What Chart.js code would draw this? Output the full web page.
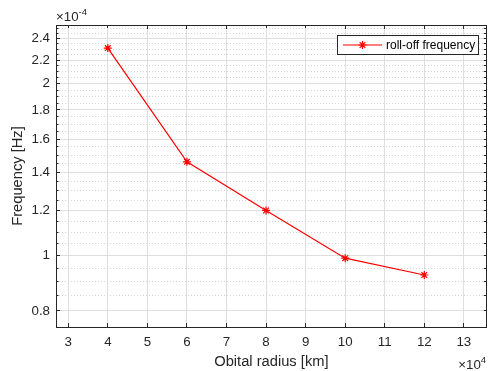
<!DOCTYPE html>
<html>
<head>
<meta charset="utf-8">
<script src="https://cdn.jsdelivr.net/npm/chart.js@4/dist/chart.umd.min.js"></script>
<style>
    html, body { margin: 0; padding: 0; background: #fff; }
    #wrap { width: 492px; height: 371px; position: relative; }
</style>
</head>
<body>
<div id="wrap"><canvas id="rolloffChart" width="492" height="371"></canvas></div>
<script>
// orbital radius [km] and roll-off frequency [Hz]
const radius = [40000, 60000, 80000, 100000, 120000];
const rolloff = [2.31e-4, 1.46e-4, 1.2e-4, 0.99e-4, 0.925e-4];

// tick values (x in units of 1e4 km, y in units of 1e-4 Hz)
const xTicks = [3, 4, 5, 6, 7, 8, 9, 10, 11, 12, 13];
const yMajor = [0.8, 1, 1.2, 1.4, 1.6, 1.8, 2, 2.2, 2.4];
const yMinor = [0.85, 0.9, 0.95, 1.05, 1.1, 1.15, 1.25, 1.3, 1.35, 1.45, 1.5, 1.55,
    1.65, 1.7, 1.75, 1.85, 1.9, 1.95, 2.05, 2.1, 2.15, 2.25, 2.3, 2.35, 2.45, 2.5];

const xMin = 2.69e4, xMax = 13.58e4;
const yMin = 0.75e-4, yMax = 2.535e-4;

const axisColor = '#262626';
const fontFamily = '"Liberation Sans", Arial, Helvetica, sans-serif';

const setTicks = (list, unit) => (scale) => {
    scale.ticks = list.map(v => ({ value: v * unit }));
};

const fixedWidth = (w) => (scale) => { scale.width = w; };
const fixedHeight = (h) => (scale) => { scale.height = h; };

// legend box and the x10 exponent labels, drawn like matlab does
const extrasPlugin = {
    id: 'extras',
    afterDraw(chart) {
        const { ctx, chartArea } = chart;
        ctx.save();

        // exponent labels
        ctx.fillStyle = axisColor;
        ctx.textBaseline = 'alphabetic';
        ctx.textAlign = 'left';
        ctx.font = `13.3px ${fontFamily}`;
        ctx.fillText('\u00d710', chartArea.left, 21);
        let w = ctx.measureText('\u00d710').width;
        ctx.font = `9.5px ${fontFamily}`;
        ctx.fillText('-4', chartArea.left + w, 15);

        ctx.font = `13.3px ${fontFamily}`;
        w = ctx.measureText('\u00d710').width;
        const ex = chartArea.right - w - 6;
        ctx.fillText('\u00d710', ex, 369);
        ctx.font = `9.5px ${fontFamily}`;
        ctx.fillText('4', ex + w, 363);

        // legend
        const lx = 337, ly = 35, lw = 142, lh = 20;
        ctx.fillStyle = '#fff';
        ctx.fillRect(lx, ly, lw, lh);
        ctx.strokeStyle = axisColor;
        ctx.lineWidth = 1;
        ctx.strokeRect(lx + 0.5, ly + 0.5, lw - 1, lh - 1);

        const cy = ly + lh / 2;
        ctx.strokeStyle = '#ff0000';
        ctx.lineWidth = 1.2;
        ctx.beginPath();
        ctx.moveTo(343, cy);
        ctx.lineTo(382, cy);
        ctx.stroke();
        Chart.helpers.drawPoint(ctx, { pointStyle: 'star', radius: 4, rotation: 0, borderWidth: 1.2 }, 362.5, cy);

        ctx.fillStyle = '#000';
        ctx.textBaseline = 'middle';
        ctx.font = `12px ${fontFamily}`;
        ctx.fillText('roll-off frequency', 386, cy + 0.5);
        ctx.restore();
    }
};

const ctx = document.getElementById('rolloffChart').getContext('2d');
new Chart(ctx, {
    type: 'line',
    data: {
        datasets: [{
            label: 'roll-off frequency',
            data: radius.map((r, i) => ({ x: r, y: rolloff[i] })),
            borderColor: '#ff0000',
            backgroundColor: '#ff0000',
            borderWidth: 1.2,
            pointStyle: 'star',
            pointRadius: 4,
            pointBorderWidth: 1.2,
            pointBorderColor: '#ff0000',
            tension: 0
        }]
    },
    options: {
        responsive: false,
        animation: false,
        devicePixelRatio: 1,
        layout: { padding: { left: 0, top: 25, right: 5, bottom: 0 } },
        plugins: { legend: { display: false }, tooltip: { enabled: false } },
        scales: {
            x: {
                type: 'linear',
                position: 'bottom',
                bounds: 'data',
                min: xMin,
                max: xMax,
                afterBuildTicks: setTicks(xTicks, 1e4),
                afterFit: fixedHeight(44),
                ticks: {
                    color: axisColor,
                    font: { family: fontFamily, size: 13.3 },
                    padding: 11,
                    maxRotation: 0,
                    autoSkip: false,
                    callback: (v) => String(Math.round(v / 1e3) / 10)
                },
                grid: { color: '#dedede', lineWidth: 1, tickLength: -4, tickColor: axisColor },
                border: { color: axisColor, width: 1 },
                title: {
                    display: true,
                    text: 'Obital radius [km]',
                    color: axisColor,
                    font: { family: fontFamily, size: 14.7 },
                    padding: { top: 0, bottom: 0 }
                }
            },
            xTop: {
                type: 'linear',
                position: 'top',
                bounds: 'data',
                min: xMin,
                max: xMax,
                afterBuildTicks: setTicks(xTicks, 1e4),
                afterFit: fixedHeight(0),
                ticks: { display: false },
                grid: { drawOnChartArea: false, tickLength: -4, tickColor: axisColor },
                border: { color: axisColor, width: 1 }
            },
            y: {
                type: 'logarithmic',
                position: 'left',
                bounds: 'data',
                weight: 1,
                min: yMin,
                max: yMax,
                afterBuildTicks: setTicks(yMajor, 1e-4),
                afterFit: fixedWidth(56),
                ticks: {
                    color: axisColor,
                    font: { family: fontFamily, size: 13.3 },
                    padding: 10,
                    autoSkip: false,
                    callback: (v) => String(Math.round(v * 1e5) / 10)
                },
                grid: { color: '#dedede', lineWidth: 1, tickLength: -4, tickColor: axisColor },
                border: { color: axisColor, width: 1 },
                title: {
                    display: true,
                    text: 'Frequency [Hz]',
                    color: axisColor,
                    font: { family: fontFamily, size: 14.7 },
                    padding: { top: 9, bottom: 0 }
                }
            },
            yMinor: {
                type: 'logarithmic',
                position: 'left',
                bounds: 'data',
                weight: 0,
                min: yMin,
                max: yMax,
                afterBuildTicks: setTicks(yMinor, 1e-4),
                afterFit: fixedWidth(0),
                ticks: { display: false },
                grid: { color: '#d4d4d4', lineWidth: 1, tickLength: -2.5, tickColor: axisColor },
                border: { display: false, dash: [1, 2] }
            },
            yRight: {
                type: 'logarithmic',
                position: 'right',
                bounds: 'data',
                min: yMin,
                max: yMax,
                afterBuildTicks: setTicks(yMajor.concat(yMinor), 1e-4),
                afterFit: fixedWidth(0),
                ticks: { display: false },
                grid: { drawOnChartArea: false, tickLength: -3, tickColor: axisColor },
                border: { color: axisColor, width: 1 }
            }
        }
    },
    plugins: [extrasPlugin]
});
</script>
</body>
</html>
